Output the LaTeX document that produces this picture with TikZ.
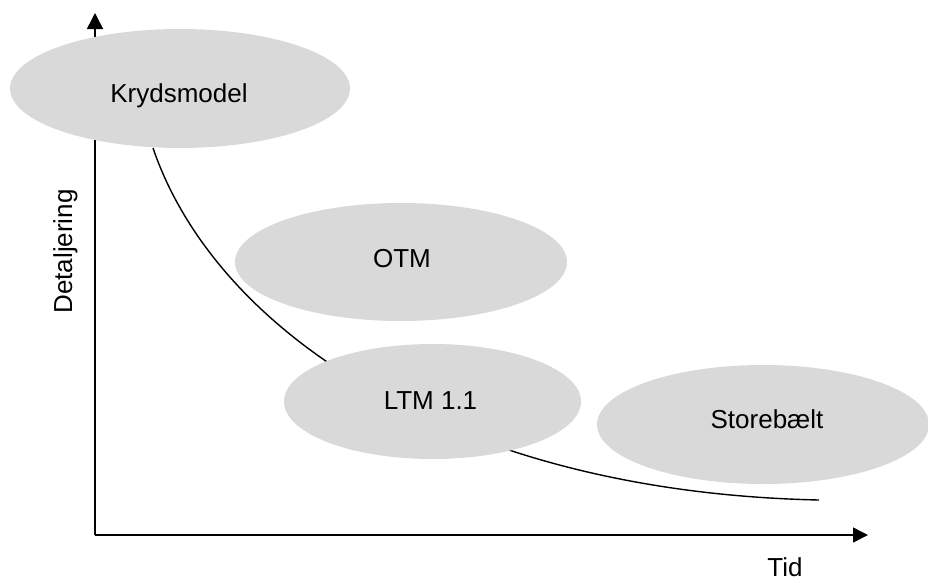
\documentclass[tikz,border=0pt]{standalone}
\usepackage{fontspec}
\setmainfont{Liberation Sans}
\usetikzlibrary{arrows.meta,shapes.geometric}
\definecolor{blobgray}{RGB}{217,217,217}
\begin{document}
\begin{tikzpicture}[x=1pt,y=-1pt,
  axisline/.style={line width=1.5pt,-{Triangle[length=16pt,width=16pt]}},
  trendline/.style={line width=1.4pt},
  blob/.style={ellipse,fill=blobgray,draw=none,inner sep=0pt},
  lbl/.style={anchor=base,inner sep=0pt,font=\fontsize{26}{30}\selectfont}]
\useasboundingbox (0,0) rectangle (928,582);

% axes
\coordinate (o) at (95,535);
\coordinate (ytip) at (95,13);
\coordinate (xtip) at (868,535);
\draw[axisline] (o) -- (ytip);
\draw[line width=1.5pt,-{Triangle[length=15pt,width=15pt]}] (o) -- (xtip);

% trade-off curve
\coordinate (c0) at (153,148);
\coordinate (c3) at (819,500);
\draw[trendline] (c0) .. controls (215,330) and (450,492) .. (c3);

% model regions
\node[blob,minimum width=340pt,minimum height=119pt] (kryds) at (180,88.5) {};
\node[blob,minimum width=332pt,minimum height=118pt] (otm) at (401,262) {};
\node[blob,minimum width=297pt,minimum height=115pt] (ltm) at (432.5,401.5) {};
\node[blob,minimum width=332pt,minimum height=119pt] (storeb) at (763,424.5) {};

% labels
\node[lbl] (tkryds) at (179,102) {Krydsmodel};
\node[lbl] (totm) at (402,267) {OTM};
\node[lbl] (tltm) at (430.5,409) {LTM 1.1};
\node[lbl] (tstoreb) at (767,428) {Storebælt};
\node[lbl,rotate=90] (ylab) at (72,251.5) {Detaljering};
\node[lbl] (xlab) at (785,576) {Tid};
\end{tikzpicture}
\end{document}
